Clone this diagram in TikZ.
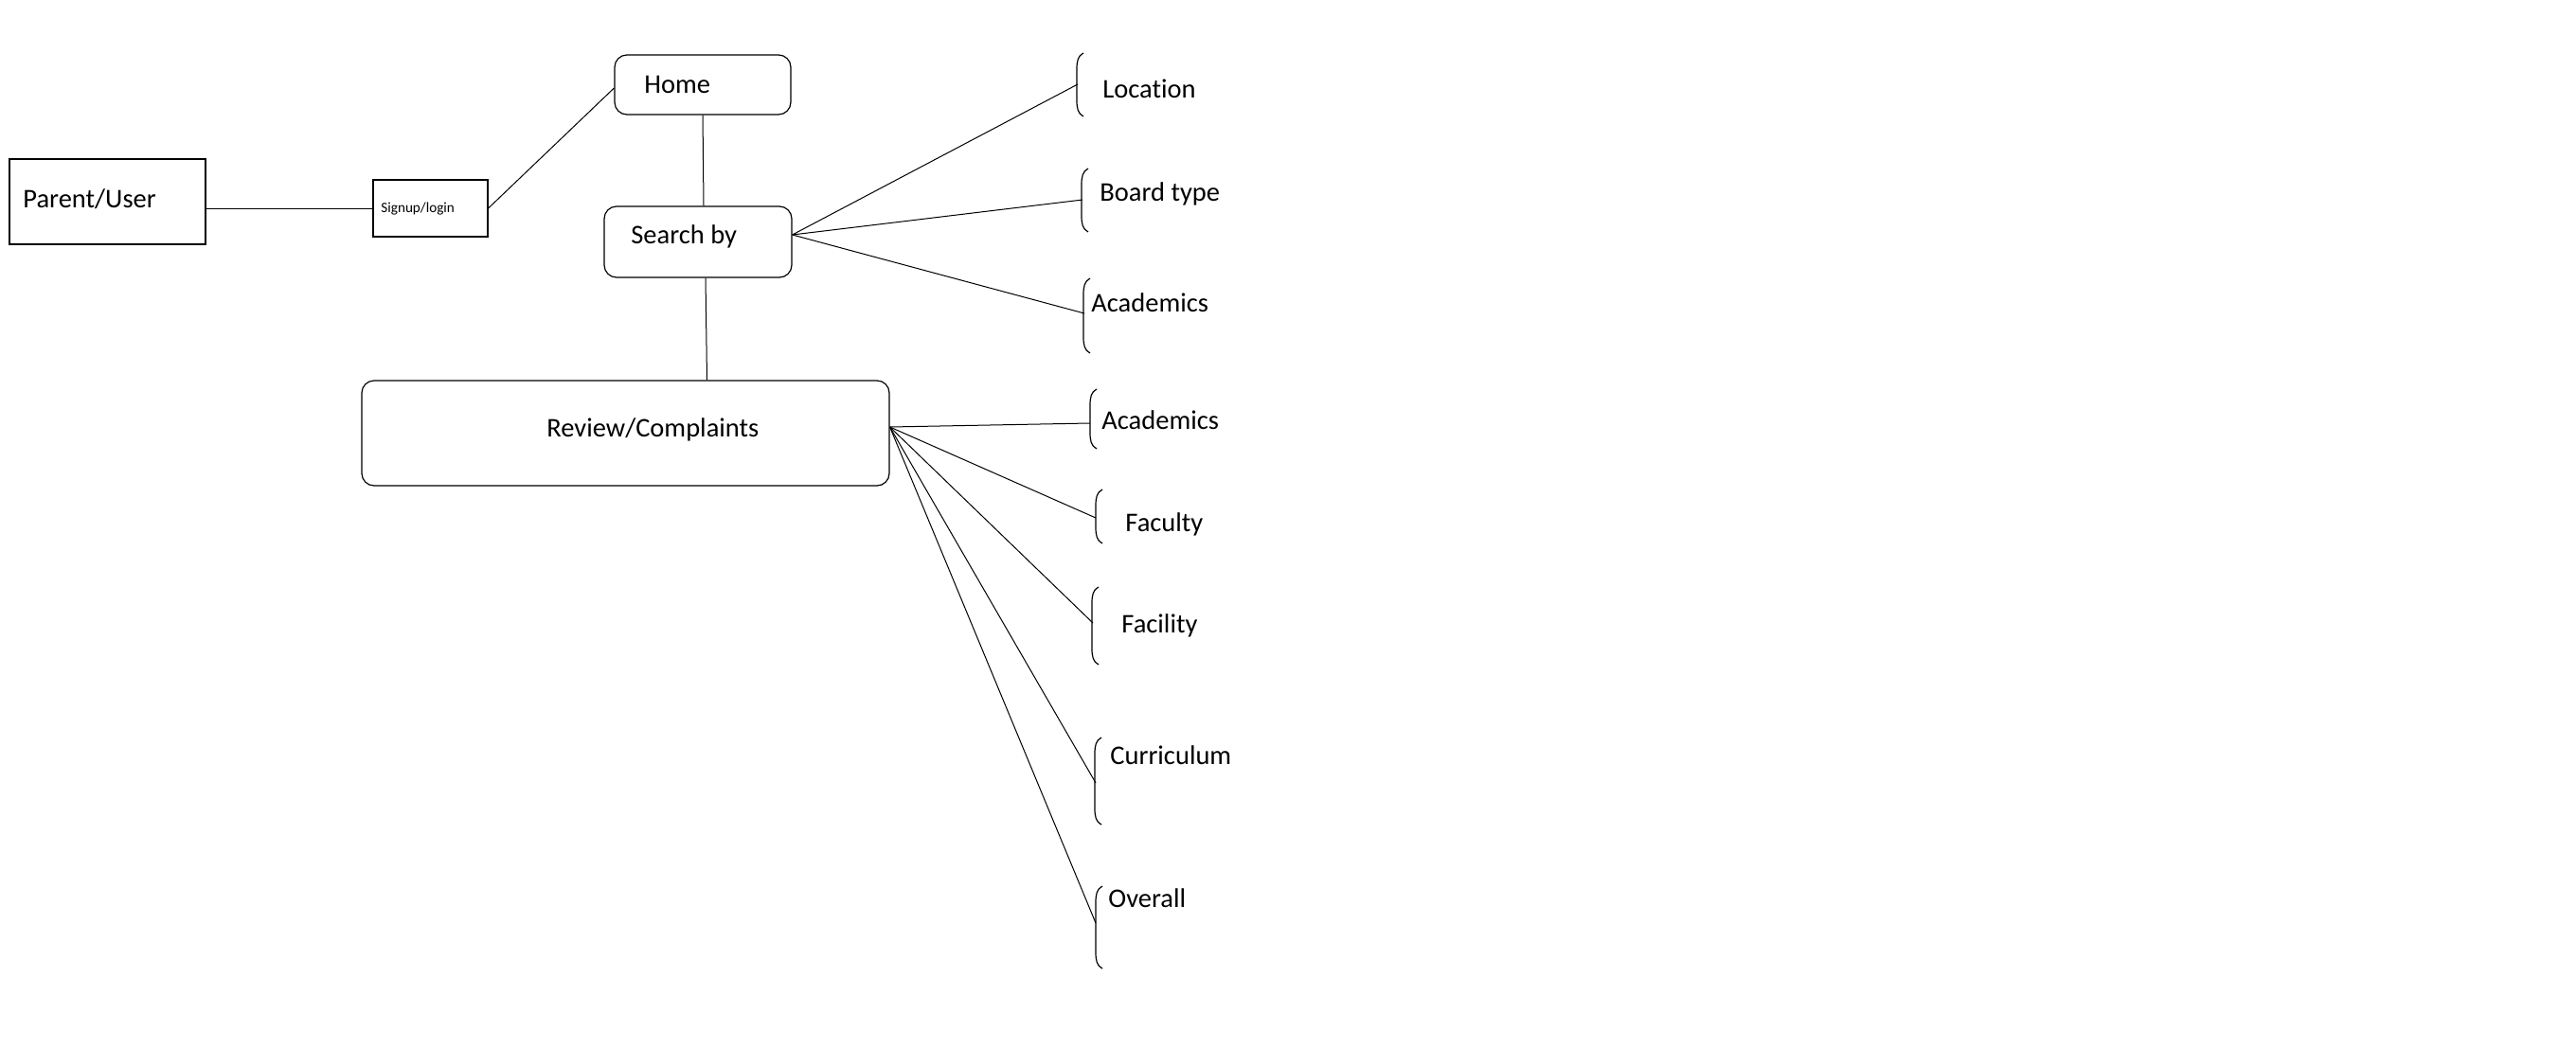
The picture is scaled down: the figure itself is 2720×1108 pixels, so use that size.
\documentclass[tikz,border=0pt]{standalone}
\usepackage{fontspec}
\setmainfont{Carlito}[Ligatures=NoCommon]
\usetikzlibrary{calc}
\newcommand\brkdraw[3]{%
  \draw[bline] ({#1+7},#2) .. controls ({#1+1},{#2+3}) and (#1,{#2+9}) .. (#1,{#2+17})
    -- (#1,{#3-17}) .. controls (#1,{#3-9}) and ({#1+1},{#3-3}) .. ({#1+7},#3);}
\tikzset{
  boxsq/.style={draw, line width=0.6pt, inner sep=0pt, rectangle},
  boxrd/.style={draw, line width=0.6pt, inner sep=0pt, rectangle, rounded corners=6.5pt},
  conn/.style={line width=0.5pt},
  bline/.style={line width=0.6pt},
  lbl/.style={inner sep=0pt, anchor=base west, font=\fontsize{14.25}{17}\selectfont},
  lblsm/.style={inner sep=0pt, anchor=base west, font=\fontsize{7.6}{9}\selectfont}
}
\begin{document}
\begin{tikzpicture}[x=0.5pt, y=-0.5pt]
\useasboundingbox (0,0) rectangle (2720,1108);
% boxes
\node[boxsq, minimum width=103.5pt, minimum height=45pt] (parent) at (113.5,213) {};
\node[boxsq, minimum width=60.5pt, minimum height=30pt] (signup) at (454.5,220) {};
\node[boxrd, minimum width=93pt, minimum height=31.5pt] (home) at (742,89.5) {};
\node[boxrd, minimum width=99pt, minimum height=37.5pt] (search) at (737,255.5) {};
\node[boxrd, minimum width=278.5pt, minimum height=55.5pt] (review) at (660.5,457.5) {};
% box texts
\node[lbl] (tparent) at (24,219) {Parent/User};
\node[lblsm] (tsignup) at (402,224) {Signup/login};
\node[lbl] (thome) at (680,98) {Home};
\node[lbl] (tsearch) at (666,257) {Search by};
\node[lbl] (treview) at (577,461) {Review/Complaints};
% brackets
\brkdraw{1137}{56}{123}
\brkdraw{1142}{178}{245}
\brkdraw{1144}{294}{373}
\brkdraw{1151}{411}{474}
\brkdraw{1157}{517}{574}
\brkdraw{1153}{620}{702}
\brkdraw{1156}{779}{871}
\brkdraw{1157}{936}{1023}
% bracket attachment points
\coordinate (aLoc) at (1138,89);
\coordinate (aBoard) at (1143,211);
\coordinate (aAcadA) at (1145,331);
\coordinate (aAcadB) at (1151,447);
\coordinate (aFac) at (1157,547);
\coordinate (aFacil) at (1154,658);
\coordinate (aCurr) at (1157,827);
\coordinate (aOver) at (1157,975);
% bracket texts
\node[lbl] (tLoc) at (1164,103) {Location};
\node[lbl] (tBoard) at (1161,212) {Board type};
\node[lbl] (tAcadA) at (1152,329) {Academics};
\node[lbl] (tAcadB) at (1163,453) {Academics};
\node[lbl] (tFac) at (1188,561) {Faculty};
\node[lbl] (tFacil) at (1184,668) {Facility};
\node[lbl] (tCurr) at (1172,807) {Curriculum};
\node[lbl] (tOver) at (1170,958) {Overall};
% connectors
\draw[conn] (parent.east |- signup.west) -- (signup.west);
\draw[conn] (signup.east) -- ([yshift=-1.75pt]home.west);
\draw[conn] (home.south) -- ([xshift=3pt]search.north);
\draw[conn] ([xshift=4pt]search.south) -- ([xshift=43pt]review.north);
\coordinate (sfan) at ([yshift=3.75pt]search.east);
\coordinate (rfan) at ([yshift=3.25pt]review.east);
\foreach \t in {aLoc, aBoard, aAcadA} \draw[conn] (sfan) -- (\t);
\foreach \t in {aAcadB, aFac, aFacil, aCurr, aOver} \draw[conn] (rfan) -- (\t);
\end{tikzpicture}
\end{document}
